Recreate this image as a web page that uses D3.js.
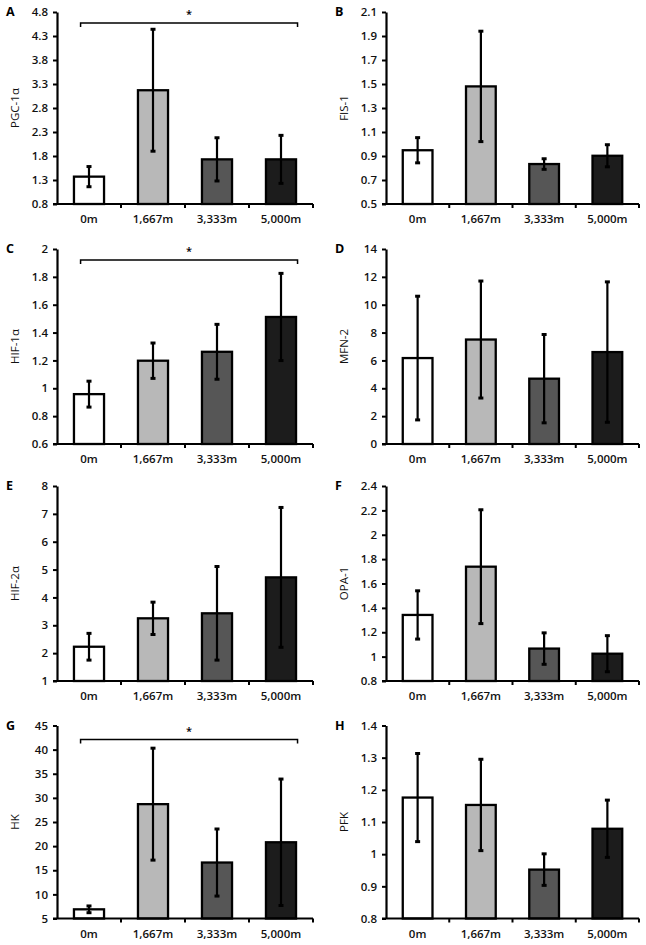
<!DOCTYPE html>
<html>
<head>
<meta charset="utf-8">
<script src="https://cdn.jsdelivr.net/npm/d3@7"></script>
<style>
  body { margin: 0; background: #fff; }
  text { font-family: "Open Sans", sans-serif; }
</style>
</head>
<body>
<svg id="chart" width="646" height="945"></svg>
<script>
// data
var categories = ["0m", "1,667m", "3,333m", "5,000m"];
var barColors = ["#ffffff", "#b8b8b8", "#565656", "#1c1c1c"];
var panelLetters = ["A", "B", "C", "D", "E", "F", "G", "H"];
var yTitles = ["PGC-1\u03b1", "FIS-1", "HIF-1\u03b1", "MFN-2", "HIF-2\u03b1", "OPA-1", "HK", "PFK"];
var yTicks = [
    [0.8, 1.3, 1.8, 2.3, 2.8, 3.3, 3.8, 4.3, 4.8],
    [0.5, 0.7, 0.9, 1.1, 1.3, 1.5, 1.7, 1.9, 2.1],
    [0.6, 0.8, 1, 1.2, 1.4, 1.6, 1.8, 2],
    [0, 2, 4, 6, 8, 10, 12, 14],
    [1, 2, 3, 4, 5, 6, 7, 8],
    [0.8, 1, 1.2, 1.4, 1.6, 1.8, 2, 2.2, 2.4],
    [5, 10, 15, 20, 25, 30, 35, 40, 45],
    [0.8, 0.9, 1, 1.1, 1.2, 1.3, 1.4]
];
var means = [
    [1.37, 3.17, 1.73, 1.73],
    [0.948, 1.48, 0.833, 0.902],
    [0.958, 1.198, 1.262, 1.512],
    [6.17, 7.5, 4.69, 6.6],
    [2.23, 3.25, 3.43, 4.72],
    [1.342, 1.738, 1.066, 1.024],
    [6.9, 28.7, 16.6, 20.8],
    [1.176, 1.153, 0.952, 1.079]
];
var errors = [
    [0.21, 1.27, 0.45, 0.5],
    [0.105, 0.46, 0.044, 0.092],
    [0.093, 0.127, 0.197, 0.313],
    [4.44, 4.2, 3.17, 5.04],
    [0.48, 0.58, 1.68, 2.51],
    [0.198, 0.467, 0.129, 0.148],
    [0.7, 11.6, 6.95, 13.1],
    [0.137, 0.142, 0.049, 0.089]
];
var significant = ["A", "C", "G"];

var svg = d3.select("#chart");

var colLeft = [57, 386];
var colRight = [313, 639];
var rowTop = [12, 249, 486, 725.5];
var rowBottom = [204, 444, 681, 918.5];

var fmt = function(v){ return String(+v.toFixed(2)); };

panelLetters.forEach(function(letter, i){
    var col = i % 2, row = Math.floor(i / 2);
    var x0 = colLeft[col], x1 = colRight[col];
    var top = rowTop[row], bottom = rowBottom[row];
    var ticks = yTicks[i];

    var x = d3.scaleBand().domain(categories).range([x0, x1])
        .paddingInner(0.53).paddingOuter(0.265);
    var y = d3.scaleLinear().domain([ticks[0], ticks[ticks.length-1]]).range([bottom, top]);

    var g = svg.append("g");

    // bars
    g.selectAll("rect.bar").data(means[i]).enter().append("rect")
        .attr("class", "bar")
        .attr("x", function(d, j){ return x(categories[j]); })
        .attr("y", function(d){ return y(d); })
        .attr("width", x.bandwidth())
        .attr("height", function(d){ return y(ticks[0]) - y(d); })
        .attr("fill", function(d, j){ return barColors[j]; })
        .attr("stroke", "#000")
        .attr("stroke-width", 2.3);

    // error bars
    var cx = function(j){ return x(categories[j]) + x.bandwidth()/2; };
    var eb = g.selectAll("g.err").data(means[i]).enter().append("g").attr("class", "err");
    eb.append("line")
        .attr("x1", function(d, j){ return cx(j); })
        .attr("x2", function(d, j){ return cx(j); })
        .attr("y1", function(d, j){ return y(d - errors[i][j]); })
        .attr("y2", function(d, j){ return y(d + errors[i][j]); })
        .attr("stroke", "#000").attr("stroke-width", 2.2);
    [-1, 1].forEach(function(s){
        eb.append("line")
            .attr("x1", function(d, j){ return cx(j) - 2.5; })
            .attr("x2", function(d, j){ return cx(j) + 2.5; })
            .attr("y1", function(d, j){ return y(d + s*errors[i][j]); })
            .attr("y2", function(d, j){ return y(d + s*errors[i][j]); })
            .attr("stroke", "#000").attr("stroke-width", 3);
    });

    // y axis
    var yAxis = g.append("g").attr("transform", "translate(" + x0 + ",0)")
        .call(d3.axisLeft(y).tickValues(ticks).tickFormat(fmt).tickSize(4).tickSizeOuter(0).tickPadding(5));
    yAxis.select(".domain").attr("stroke-width", 2.2);
    yAxis.selectAll(".tick line").attr("stroke-width", 2);
    yAxis.selectAll("text").attr("font-size", 11.5).attr("font-weight", 600).attr("fill", "#111");

    // x axis
    var xAxis = g.append("g").attr("transform", "translate(0," + bottom + ")")
        .call(d3.axisBottom(x).tickSize(0).tickPadding(11));
    xAxis.select(".domain").attr("stroke-width", 2.2).attr("d", "M" + (x0 - 4) + ",0H" + x1);
    xAxis.selectAll("text").attr("font-size", 11.5).attr("font-weight", 600).attr("fill", "#111");
    g.selectAll("line.xtick").data(d3.range(1, categories.length + 1)).enter().append("line")
        .attr("class", "xtick")
        .attr("x1", function(k){ return x0 + k * x.step(); })
        .attr("x2", function(k){ return x0 + k * x.step(); })
        .attr("y1", bottom).attr("y2", bottom + 4)
        .attr("stroke", "#000").attr("stroke-width", 2);

    // y title
    g.append("text")
        .attr("transform", "translate(" + (x0 - 38) + "," + ((top + bottom)/2) + ") rotate(-90)")
        .attr("text-anchor", "middle")
        .attr("font-size", 11.5)
        .attr("fill", "#111")
        .text(yTitles[i]);

    // panel letter
    g.append("text")
        .attr("x", col == 0 ? 6 : 335)
        .attr("y", top + 4)
        .attr("font-size", 12.5)
        .attr("font-weight", 700)
        .text(letter);

    // significance bracket
    if(significant.indexOf(letter) >= 0){
        var bl = x(categories[0]) + x.bandwidth()*0.22;
        var br = x(categories[3]) + x.bandwidth()*1.05;
        var by = top + (row == 3 ? 14 : 11);
        g.append("path")
            .attr("d", "M" + bl + "," + (by + 4) + "V" + by + "H" + br + "V" + (by + 4))
            .attr("fill", "none").attr("stroke", "#000").attr("stroke-width", 1.5);
        g.append("text")
            .attr("x", (bl + br)/2)
            .attr("y", by - 5)
            .attr("text-anchor", "middle")
            .attr("font-size", 11)
            .attr("font-weight", 600)
            .text("*");
    }
});
</script>
</body>
</html>
